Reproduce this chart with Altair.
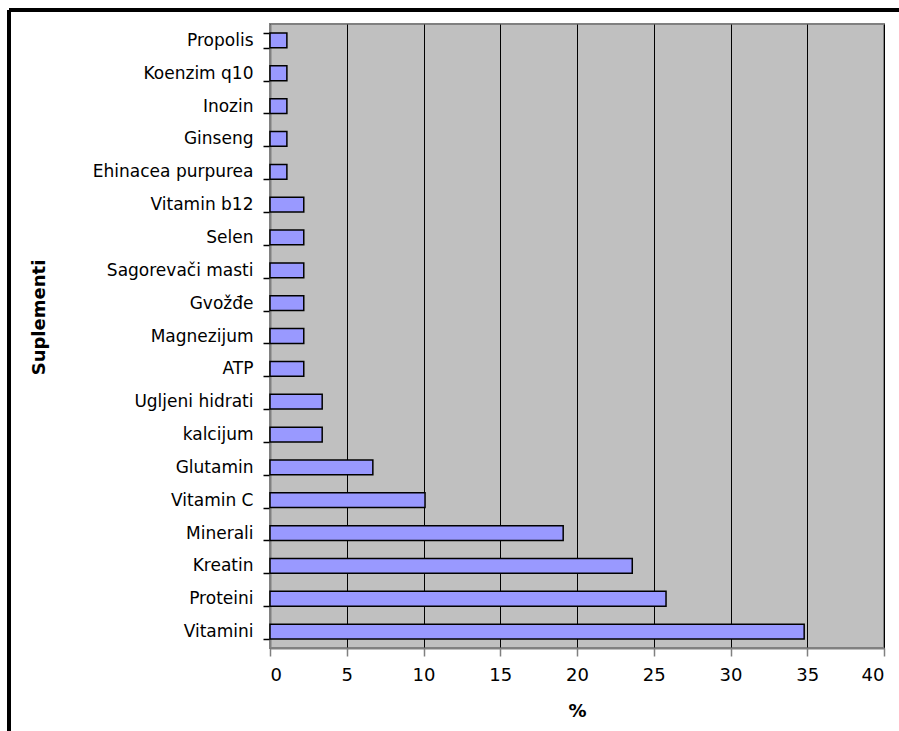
import altair as alt
import pandas as pd

categories = ["Vitamini", "Proteini", "Kreatin", "Minerali", "Vitamin C", "Glutamin",
              "kalcijum", "Ugljeni hidrati", "ATP", "Magnezijum", "Gvožđe",
              "Sagorevači masti", "Selen", "Vitamin b12", "Ehinacea purpurea",
              "Ginseng", "Inozin", "Koenzim q10", "Propolis"]
values = [34.8, 25.8, 23.6, 19.1, 10.1, 6.7, 3.4, 3.4, 2.2, 2.2, 2.2, 2.2, 2.2, 2.2,
          1.1, 1.1, 1.1, 1.1, 1.1]
x_ticks = [0, 5, 10, 15, 20, 25, 30, 35, 40]

df = pd.DataFrame({"cat": categories, "val": values})
order = list(reversed(categories))

FONT = "DejaVu Sans"
W, H = 614, 624
PL, PT = 270, 24

bars = alt.Chart(df).mark_bar(
    fill="#9999FF", stroke="black", strokeWidth=1.5
).encode(
    x=alt.X("val:Q", scale=alt.Scale(domain=[0, 40], nice=False),
            axis=alt.Axis(values=x_ticks, title="%", grid=True, gridColor="black",
                          gridWidth=1, domainColor="#808080", domainWidth=2,
                          tickColor="#808080", tickSize=8, tickWidth=1.5,
                          labelFont=FONT, labelFontSize=18, labelColor="black",
                          labelPadding=10, titleFont=FONT, titleFontSize=18,
                          titleFontWeight="bold", titleColor="black", titlePadding=18)),
    y=alt.Y("cat:N", sort=order,
            scale=alt.Scale(paddingInner=0.55, paddingOuter=0.275),
            axis=alt.Axis(title="Suplementi", tickBand="extent", domainColor="#808080",
                          domainWidth=2, tickColor="black", tickSize=7, tickWidth=1.5,
                          labelFont=FONT, labelFontSize=17, labelColor="black",
                          labelPadding=10, titleFont=FONT, titleFontSize=18,
                          titleFontWeight="bold", titleColor="black",
                          titleX=-222, titleY=293)),
)

left_border = alt.Chart(df).mark_rule(color="black", strokeWidth=3).encode(
    x=alt.value(9 - PL), y=alt.value(10 - PT), y2=alt.value(731 - PT + 5)
)
top_border = alt.Chart(df).mark_rule(color="black", strokeWidth=3).encode(
    x=alt.value(9 - PL), x2=alt.value(899 - PL + 5), y=alt.value(10 - PT)
)

chart = alt.layer(bars, left_border, top_border).properties(
    width=W, height=H,
    autosize=alt.AutoSizeParams(type="none"),
    padding={"left": PL, "top": PT, "right": 899 - PL - W, "bottom": 731 - PT - H},
    background="white",
).configure_view(fill="#C0C0C0", stroke="#808080", strokeWidth=2)

chart.save("out.html", embed_options={"renderer": "svg", "actions": False})
